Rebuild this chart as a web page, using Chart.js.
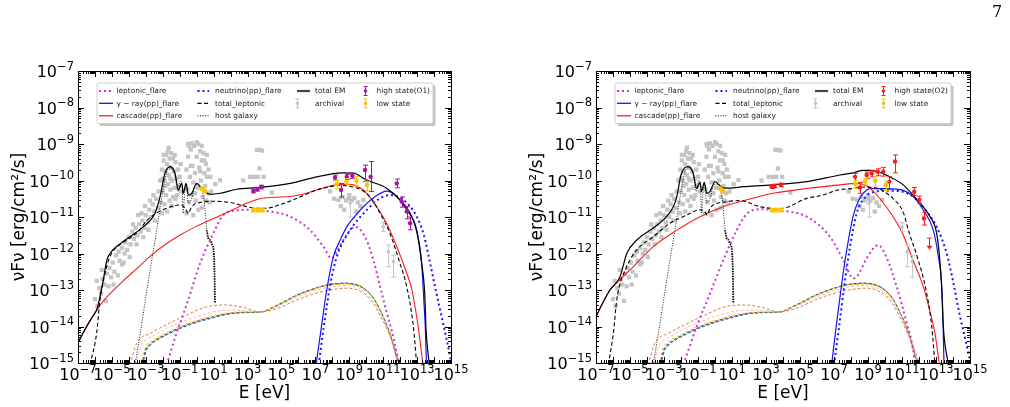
<!DOCTYPE html>
<html>
<head>
<meta charset="utf-8">
<script src="https://cdn.jsdelivr.net/npm/chart.js@4.4.1/dist/chart.umd.min.js"></script>
<style>
  body { margin: 0; background: #fff; }
  #wrap { position: relative; width: 1010px; height: 407px; overflow: hidden; }
  .panel { position: absolute; top: 0; width: 505px; height: 407px; }
  #pageno { position: absolute; left: 992px; top: 2px; font-family: "DejaVu Serif", serif; font-size: 16px; }
</style>
</head>
<body>
<div id="wrap">
  <div class="panel" style="left:0"><canvas id="sedO1" width="505" height="407"></canvas></div>
  <div class="panel" style="left:505px"><canvas id="sedO2" width="505" height="407"></canvas></div>
  <div id="pageno">7</div>
</div>
<script>
/* ------------------------------------------------------------------ */
/*  Data — all values are [log10 E(eV), log10 νFν(erg/cm²/s)]          */
/* ------------------------------------------------------------------ */

const xTickExps = [-7, -5, -3, -1, 1, 3, 5, 7, 9, 11, 13, 15];
const yTickExps = [-15, -14, -13, -12, -11, -10, -9, -8, -7];

// flare O1 (left panel)
const leptonicO1 = [[-1.77,-15.05],[-1.2,-14.2],[-0.59,-13.4],[0.2,-12.27],[0.98,-11.45],[1.57,-10.95],[2.36,-10.82],[3.15,-10.8],[4.2,-10.84],[5.51,-10.99],[6.69,-11.36],[7.47,-11.81],[7.96,-12.13],[8.3,-11.92],[8.65,-11.63],[9.34,-11.27],[9.93,-11.54],[10.42,-12.18],[10.82,-12.91],[11.2,-13.6],[11.6,-14.3],[11.9,-15.05]];
const gammaO1 = [[7.04,-15.05],[7.3,-14.2],[7.67,-13.0],[8.06,-12.09],[8.5,-11.6],[8.85,-11.27],[9.3,-11.0],[9.83,-10.72],[10.6,-10.42],[11.2,-10.29],[11.8,-10.44],[12.39,-10.81],[12.98,-11.36],[13.27,-12.27],[13.4,-13.3],[13.5,-14.2],[13.55,-15.05]];
const cascadeO1 = [[-7,-14.45],[-6.5,-14.02],[-6.0,-13.62],[-5.5,-13.3],[-5.0,-13.05],[-4.33,-12.75],[-3.5,-12.4],[-2.75,-12.08],[-2.0,-11.8],[-1.0,-11.5],[0,-11.25],[1.0,-11.04],[2.0,-10.83],[2.8,-10.65],[3.74,-10.5],[4.6,-10.46],[5.51,-10.44],[6.3,-10.37],[7.08,-10.26],[7.8,-10.16],[8.46,-10.1],[9.24,-10.12],[9.7,-10.22],[10.03,-10.35],[10.62,-10.72],[11.2,-11.17],[11.8,-11.81],[12.39,-12.54],[12.7,-13.0],[13.06,-14.0],[13.35,-15.05]];
const neutrinoO1 = [[7.2,-15.05],[7.5,-14.0],[7.9,-12.8],[8.26,-12.09],[9.05,-11.36],[10.03,-10.81],[10.7,-10.52],[11.4,-10.4],[12.19,-10.53],[12.98,-10.99],[13.4,-11.5],[13.77,-12.27],[14.1,-13.0],[14.36,-13.55],[14.75,-14.37],[15.05,-15.05]];
const totalLeptonicO1 = [[-6.29,-15.05],[-5.9,-14.18],[-5.7,-13.27],[-5.31,-12.36],[-5.0,-11.98],[-4.5,-11.75],[-4.0,-11.6],[-3.5,-11.42],[-2.95,-11.1],[-2.4,-10.9],[-1.97,-10.8],[-1.4,-10.7],[-0.98,-10.67],[-0.7,-10.75],[-0.49,-10.9],[-0.3,-10.72],[0.2,-10.6],[0.98,-10.57],[1.97,-10.6],[2.56,-10.67],[3.54,-10.76],[4.13,-10.76],[4.8,-10.68],[5.7,-10.53],[7.08,-10.26],[7.87,-10.17],[8.46,-10.13],[9.24,-10.18],[9.81,-10.28],[10.3,-10.5],[10.82,-10.9],[11.4,-11.45],[11.99,-12.27],[12.39,-12.91],[12.78,-14.0],[12.98,-15.05]];
const totalEMO1 = [[-7,-14.45],[-6.5,-14.0],[-6.1,-13.7],[-5.9,-13.55],[-5.7,-13.18],[-5.51,-12.73],[-5.31,-12.2],[-5.11,-12.0],[-4.72,-11.81],[-4.3,-11.66],[-3.93,-11.54],[-3.15,-11.27],[-2.75,-11.1],[-2.46,-10.9],[-2.16,-10.44],[-1.87,-9.8],[-1.57,-9.62],[-1.28,-9.8],[-1.08,-10.26],[-0.88,-10.08],[-0.79,-10.35],[-0.63,-10.08],[-0.49,-10.4],[-0.29,-10.35],[0.0,-10.08],[0.2,-10.17],[0.49,-10.31],[0.79,-10.38],[1.38,-10.35],[2.36,-10.24],[3.74,-10.19],[5.51,-10.08],[7.08,-9.9],[8.3,-9.8],[8.65,-9.79],[9.24,-9.8],[10.03,-9.99],[11.2,-10.21],[11.99,-10.53],[12.59,-10.9],[12.98,-11.4],[13.27,-12.27],[13.45,-13.1],[13.53,-14.1],[13.72,-15.05]];

// flare O2 (right panel)
const leptonicO2 = [[-1.86,-15.05],[-1.08,-14.0],[-0.29,-13.09],[0.49,-12.18],[1.28,-11.36],[1.86,-10.92],[2.65,-10.79],[3.43,-10.81],[5.39,-10.99],[6.76,-11.54],[7.55,-12.18],[8.14,-12.68],[8.4,-12.6],[8.92,-12.13],[9.6,-11.77],[10.1,-12.12],[10.69,-12.91],[11.28,-13.91],[11.66,-14.64],[11.76,-15.05]];
const gammaO2 = [[6.86,-15.05],[7.1,-14.1],[7.35,-13.2],[7.55,-12.5],[7.75,-11.9],[8.14,-10.95],[8.5,-10.5],[8.72,-10.35],[9.12,-10.22],[10.1,-10.22],[11.08,-10.27],[11.66,-10.44],[12.25,-10.81],[12.84,-11.36],[13.14,-12.09],[13.34,-12.91],[13.42,-14.0],[13.47,-15.05]];
const cascadeO2 = [[-7,-13.73],[-6.6,-13.35],[-6.18,-13.0],[-5.78,-12.8],[-4.8,-12.36],[-3.63,-11.81],[-2.25,-11.36],[-0.88,-10.99],[0.49,-10.72],[1.47,-10.58],[2.5,-10.45],[3.43,-10.35],[5.39,-10.22],[7.35,-10.12],[8.33,-10.08],[8.8,-10.12],[9.12,-10.21],[9.71,-10.5],[10.49,-11.0],[11.08,-11.5],[11.66,-12.2],[12.25,-12.9],[12.6,-13.5],[12.94,-14.19],[13.2,-15.05]];
const neutrinoO2 = [[7.0,-15.05],[7.3,-14.0],[7.6,-12.9],[7.95,-11.8],[8.33,-10.9],[8.92,-10.42],[9.5,-10.3],[10.2,-10.28],[11.08,-10.31],[11.8,-10.5],[12.45,-10.85],[13.04,-11.27],[13.63,-12.0],[14.02,-12.8],[14.4,-13.7],[14.75,-14.4],[15.05,-15.05]];
const totalLeptonicO2 = [[-6.28,-15.05],[-5.98,-14.19],[-5.78,-13.27],[-5.19,-12.36],[-4.6,-11.9],[-3.63,-11.54],[-2.65,-11.17],[-1.67,-10.95],[-0.9,-10.8],[-0.6,-10.85],[-0.45,-10.95],[-0.29,-10.75],[0.69,-10.58],[1.47,-10.55],[2.65,-10.72],[3.82,-10.77],[4.22,-10.74],[5.39,-10.49],[6.18,-10.42],[7.35,-10.25],[8.14,-10.22],[8.72,-10.18],[9.4,-10.2],[9.71,-10.24],[10.1,-10.35],[10.49,-10.5],[11.08,-10.88],[11.4,-11.4],[11.9,-12.1],[12.39,-12.95],[12.75,-14.0],[12.94,-15.05]];
const totalEMO2 = [[-7,-13.73],[-6.6,-13.35],[-6.18,-13.0],[-5.59,-12.64],[-5.19,-12.0],[-4.6,-11.63],[-3.82,-11.36],[-3.04,-11.08],[-2.45,-10.72],[-2.25,-10.45],[-2.0,-9.85],[-1.8,-9.66],[-1.57,-9.62],[-1.28,-9.8],[-1.08,-10.22],[-0.88,-10.05],[-0.79,-10.3],[-0.63,-10.05],[-0.49,-10.35],[-0.29,-10.3],[0.0,-10.03],[0.2,-10.1],[0.49,-10.2],[0.88,-10.21],[1.66,-10.17],[2.65,-10.14],[3.43,-10.12],[5.39,-10.03],[7.35,-9.85],[8.14,-9.79],[8.72,-9.72],[9.12,-9.72],[9.71,-9.78],[10.29,-9.9],[11.08,-10.12],[11.47,-10.31],[12.06,-10.62],[12.65,-10.99],[13.04,-11.45],[13.24,-12.27],[13.34,-13.0],[13.43,-14.0],[13.73,-15.05]];

// shared components
const hostGalaxy = [[-3.64,-15.05],[-3.3,-14.1],[-2.9,-12.9],[-2.36,-11.36],[-2.0,-10.3],[-1.77,-9.77],[-1.57,-9.65],[-1.3,-9.82],[-1.1,-10.3],[-0.95,-10.0],[-0.85,-10.2],[-0.8,-10.9],[-0.7,-10.3],[-0.6,-10.1],[-0.5,-10.6],[-0.3,-10.5],[-0.1,-10.15],[0.1,-10.1],[0.3,-10.25],[0.45,-10.6],[0.59,-11.36]];
const hostGalaxyTail = [[0.59,-11.36],[0.7,-11.6],[0.79,-11.63],[0.9,-11.75],[0.98,-11.85],[1.05,-12.5],[1.08,-13.36]];
const violetBundle = [[-3.25,-15.05],[-3.0,-14.62],[-2.75,-14.47],[-2.4,-14.36],[-1.77,-14.2],[-1.0,-14.03],[0.2,-13.83],[1.0,-13.73],[1.77,-13.65],[2.8,-13.61],[3.74,-13.6],[4.8,-13.4],[5.9,-13.14],[6.8,-12.98],[7.67,-12.86],[8.3,-12.82],[8.85,-12.81],[9.4,-12.85],[9.83,-12.94],[10.4,-13.2],[10.82,-13.55],[11.4,-14.19],[11.8,-14.83],[12.0,-15.05]];
const blueBundle = [[-3.2,-15.05],[-2.95,-14.64],[-2.7,-14.5],[-2.4,-14.39],[-1.77,-14.23],[-1.0,-14.06],[0.2,-13.86],[1.0,-13.76],[1.77,-13.67],[2.8,-13.62],[3.74,-13.61],[4.8,-13.42],[5.9,-13.15],[6.8,-12.99],[7.67,-12.87],[8.3,-12.83],[8.85,-12.82],[9.4,-12.86],[9.83,-12.95],[10.4,-13.21],[10.82,-13.56],[11.4,-14.2],[11.8,-14.85],[12.02,-15.05]];
const greenBundle = [[-3.22,-15.05],[-2.97,-14.63],[-2.72,-14.49],[-2.4,-14.38],[-1.77,-14.22],[-1.0,-14.05],[0.2,-13.85],[1.0,-13.75],[1.77,-13.66],[2.8,-13.62],[3.74,-13.61],[4.8,-13.41],[5.9,-13.15],[6.8,-12.99],[7.67,-12.87],[8.3,-12.83],[8.85,-12.82],[9.4,-12.86],[9.83,-12.95],[10.4,-13.2],[10.82,-13.55],[11.4,-14.19],[11.8,-14.84],[12.01,-15.05]];
const goldBundle = [[-3.3,-15.05],[-3.05,-14.58],[-2.8,-14.43],[-2.4,-14.32],[-1.77,-14.16],[-1.0,-14.0],[0.2,-13.8],[1.0,-13.7],[1.77,-13.63],[2.8,-13.6],[3.74,-13.6],[4.8,-13.41],[5.9,-13.16],[6.8,-13.0],[7.67,-12.88],[8.3,-12.85],[8.85,-12.84],[9.4,-12.88],[9.83,-12.97],[10.4,-13.22],[10.82,-13.56],[11.4,-14.18],[11.8,-14.8],[12.02,-15.05]];
const pinkBundle = [[-3.6,-15.05],[-3.3,-14.55],[-2.9,-14.35],[-2.4,-14.22],[-1.77,-14.05],[-1.0,-13.9],[0.2,-13.7],[1.0,-13.6],[1.77,-13.55],[2.8,-13.56],[3.74,-13.6],[4.8,-13.44],[5.9,-13.2],[6.8,-13.05],[7.67,-12.93],[8.3,-12.89],[8.85,-12.88],[9.4,-12.93],[9.83,-13.02],[10.4,-13.3],[10.82,-13.62],[11.4,-14.28],[11.8,-14.9],[12.03,-15.05]];
const peruBundle = [[-3.93,-15.05],[-3.54,-14.46],[-2.75,-14.19],[-1.77,-13.95],[-0.79,-13.73],[0.59,-13.46],[1.77,-13.41],[2.8,-13.48],[3.74,-13.6],[4.8,-13.5],[5.9,-13.27],[6.8,-13.12],[7.87,-13.0],[8.85,-12.95],[9.83,-13.08],[10.4,-13.35],[10.82,-13.7],[11.6,-14.46],[12.05,-15.05]];

// observations: [logE, logF, logF low, logF high]
const highStateO1 = [[3.34,-10.29,-10.34,-10.24],[3.57,-10.24,-10.29,-10.19],[3.82,-10.18,-10.23,-10.13],[8.16,-9.92,-9.99,-9.85],[8.52,-10.26,-10.45,-10.08],[8.85,-9.9,-9.97,-9.83],[9.18,-9.87,-9.94,-9.8],[9.93,-9.71,-10.03,-9.58],[10.26,-9.9,-10.3,-9.48],[11.8,-10.08,-10.2,-9.96],[12.09,-10.58,-10.73,-10.45],[12.39,-10.85,-11.05,-10.72],[12.59,-11.17,-11.35,-11.0]];
const highStateO2 = [[3.33,-10.17,-10.22,-10.12],[3.5,-10.15,-10.2,-10.1],[3.86,-10.12,-10.17,-10.07],[8.24,-9.9,-10.0,-9.8],[8.53,-10.19,-10.35,-10.05],[8.92,-9.85,-9.95,-9.77],[9.22,-9.8,-9.9,-9.72],[9.57,-9.76,-9.87,-9.68],[9.9,-9.76,-9.88,-9.64],[10.25,-10.03,-10.25,-9.9],[10.59,-9.48,-9.79,-9.3],[11.72,-10.31,-10.42,-10.19],[12.02,-10.53,-10.62,-10.43],[12.29,-11.04,-11.22,-10.87]];
const upperLimitO2 = [[12.61,-11.58,-11.9]];
const lowState = [[0.3,-10.22,-10.22,-10.22],[0.4,-10.26,-10.26,-10.26],[0.5,-10.3,-10.3,-10.3],[3.34,-10.81,-10.86,-10.76],[3.6,-10.81,-10.86,-10.76],[3.88,-10.81,-10.86,-10.76],[8.26,-10.1,-10.22,-10.0],[8.84,-10.03,-10.12,-9.95],[9.42,-10.01,-10.15,-9.9],[10.05,-10.12,-10.28,-10.02]];
const archivalErr = [[9.05,-10.62,-11.0,-10.45],[11.0,-11.27,-11.4,-11.15],[11.3,-11.95,-12.36,-11.77],[11.6,-12.22,-12.65,-12.05]];
const archival = [
  [-6.0,-13.25],[-5.85,-13.45],[-5.75,-12.95],[-5.65,-13.1],[-5.55,-12.7],[-5.45,-12.85],[-5.35,-13.3],[-5.3,-12.55],[-5.15,-12.4],[-5.05,-12.65],[-4.95,-12.25],[-4.85,-12.5],[-4.75,-12.05],[-4.6,-11.95],[-4.55,-12.2],[-4.4,-11.85],[-4.3,-12.25],[-4.2,-11.7],[-4.1,-11.9],[-4.0,-11.55],[-3.9,-11.75],[-3.8,-11.4],[-3.7,-11.6],[-3.6,-11.3],[-3.5,-11.5],[-3.4,-11.2],[-3.3,-11.4],[-3.2,-11.1],[-3.1,-11.3],[-3.0,-10.95],[-2.9,-11.15],[-2.8,-10.8],[-2.7,-11.0],[-2.6,-10.65],[-2.5,-10.85],[-2.4,-10.5],[-2.3,-10.75],[-2.25,-10.3],[-5.6,-12.45],[-4.9,-12.85],[-4.4,-12.3],[-3.75,-11.2],[-3.25,-10.9],[-2.55,-10.4],
  [-5.9,-12.75],[-5.2,-12.9],[-4.65,-12.6],[-4.25,-12.0],[-3.95,-12.1],[-3.55,-11.75],[-3.15,-11.55],[-2.85,-11.35],[-2.45,-11.1],[-2.75,-10.55],[-3.05,-10.7],[-3.45,-10.95],
  [-2.15,-10.0],[-2.1,-10.6],[-2.05,-9.7],[-2.0,-10.3],[-1.95,-9.45],[-1.9,-10.0],[-1.9,-10.65],[-1.85,-9.75],[-1.8,-9.3],[-1.8,-10.4],[-1.75,-9.55],[-1.7,-10.1],[-1.7,-9.2],[-1.65,-9.85],[-1.6,-10.55],[-1.6,-9.4],[-1.55,-10.25],[-1.5,-9.65],[-1.5,-9.25],[-1.45,-10.0],[-1.4,-10.45],[-1.4,-9.4],[-1.35,-9.75],[-1.3,-10.2],[-1.25,-9.5],[-1.2,-9.95],[-1.15,-10.4],[-1.1,-9.7],[-1.05,-10.15],[-1.0,-9.9],[-0.95,-9.55],[-0.9,-10.3],
  [-2.05,-10.9],[-1.75,-10.85],[-1.45,-10.7],[-1.65,-9.1],[-1.95,-9.3],[-1.3,-9.3],[-2.0,-9.95],[-1.55,-9.95],[-1.25,-10.5],[-1.85,-10.15],
  [-0.6,-9.7],[-0.55,-10.25],[-0.5,-9.35],[-0.45,-10.6],[-0.4,-9.9],[-0.35,-9.15],[-0.3,-10.4],[-0.25,-9.6],[-0.2,-10.05],[-0.15,-9.05],[-0.1,-9.8],[-0.05,-10.55],[0.0,-9.35],[0.05,-10.2],[0.1,-9.0],[0.15,-9.65],[0.2,-9.2],[0.25,-10.0],[0.3,-9.45],[0.35,-10.45],[0.4,-9.25],[0.45,-9.8],[0.5,-10.15],[0.55,-9.55],[0.6,-9.9],[0.65,-10.35],[0.7,-9.7],[-0.2,-10.95],[0.1,-10.8],[-0.45,-9.05],[0.75,-10.6],
  [-0.5,-9.0],[-0.3,-8.98],[0.0,-8.95],[0.3,-9.05],[0.6,-9.3],[0.8,-9.9],[0.85,-10.3],[-0.6,-10.9],[0.3,-10.75],[0.55,-10.55],[-0.35,-9.6],[0.2,-9.75],[-0.1,-10.35],[0.45,-9.45],
  [1.1,-10.1],[1.38,-9.99],[2.74,-10.0],[3.15,-9.9],[3.4,-9.9],[3.6,-9.9],[3.95,-9.9],[3.7,-9.67],[3.55,-9.16],[3.7,-9.16],[3.85,-9.18],[4.43,-10.33],
  [7.87,-10.3],[8.1,-10.5],[8.36,-10.53],[8.6,-10.45],[8.8,-10.55],[8.95,-10.5],[9.15,-10.55],[9.3,-10.48],[9.5,-10.6],[9.83,-10.53],[8.7,-10.8],[9.4,-10.85],[9.65,-10.7],[8.5,-10.7],[9.0,-10.4]
];

/* ------------------------------------------------------------------ */
/*  Styles                                                             */
/* ------------------------------------------------------------------ */

const MAGENTA = '#cc33cc';
const PURPLE = '#a810a8';
const BLUE = '#1414ff';
const RED = '#ff1a1a';
const GOLD = '#f7c600';
const GREY = '#c4c4c4';
const FONT = '"DejaVu Sans", sans-serif';

const toXY = arr => arr.map(p => ({ x: Math.pow(10, p[0]), y: Math.pow(10, p[1]) }));

function curve(label, data, color, width, dash, order) {
    return {
        label: label, data: toXY(data), showLine: true,
        borderColor: color, backgroundColor: color,
        borderWidth: width, borderDash: dash || [],
        pointRadius: 0, cubicInterpolationMode: 'monotone',
        fill: false, clip: 0, order: order
    };
}

function markers(label, data, color, style, radius, order) {
    return {
        label: label, data: toXY(data), showLine: false, errors: data,
        pointStyle: style, pointRadius: radius,
        backgroundColor: color, borderColor: color, borderWidth: 0,
        clip: 0, order: order
    };
}

function bundleSets() {
    return [
        curve('bundle peru', peruBundle, '#cd853f', 1, [3, 2], 8),
        curve('bundle pink', pinkBundle, '#ffb0c0', 1, [3, 2], 8),
        curve('bundle gold', goldBundle, '#ffd000', 1, [3, 2], 8),
        curve('bundle green', greenBundle, '#2e8b57', 1, [3, 2], 8),
        curve('bundle blue', blueBundle, '#3050d0', 1, [3, 2], 8),
        curve('bundle violet', violetBundle, '#8a1aa8', 1, [3, 2], 8)
    ];
}

/* ------------------------------------------------------------------ */
/*  Plugins: error bars, matplotlib-like frame/ticks, legend           */
/* ------------------------------------------------------------------ */

const errorBarPlugin = {
    id: 'errorBars',
    afterDatasetsDraw(chart) {
        const ctx = chart.ctx, xs = chart.scales.x, ys = chart.scales.y, ca = chart.chartArea;
        ctx.save();
        ctx.beginPath();
        ctx.rect(ca.left, ca.top, ca.right - ca.left, ca.bottom - ca.top);
        ctx.clip();
        ctx.lineWidth = 1;
        chart.data.datasets.forEach(ds => {
            if (ds.errors) {
                ctx.strokeStyle = ds.borderColor;
                ds.errors.forEach(e => {
                    if (e[2] === e[3]) return;
                    const px = Math.round(xs.getPixelForValue(Math.pow(10, e[0]))) + 0.5;
                    const lo = ys.getPixelForValue(Math.pow(10, e[2]));
                    const hi = ys.getPixelForValue(Math.pow(10, e[3]));
                    ctx.beginPath();
                    ctx.moveTo(px, lo); ctx.lineTo(px, hi);
                    ctx.moveTo(px - 2.5, lo); ctx.lineTo(px + 2.5, lo);
                    ctx.moveTo(px - 2.5, hi); ctx.lineTo(px + 2.5, hi);
                    ctx.stroke();
                });
            }
            if (ds.upperLimits) {
                ctx.strokeStyle = ds.borderColor;
                ctx.fillStyle = ds.borderColor;
                ds.upperLimits.forEach(u => {
                    const px = Math.round(xs.getPixelForValue(Math.pow(10, u[0]))) + 0.5;
                    const top = ys.getPixelForValue(Math.pow(10, u[1]));
                    const tip = ys.getPixelForValue(Math.pow(10, u[2]));
                    ctx.beginPath();
                    ctx.moveTo(px - 2.5, top); ctx.lineTo(px + 2.5, top);
                    ctx.moveTo(px, top); ctx.lineTo(px, tip - 3);
                    ctx.stroke();
                    ctx.beginPath();
                    ctx.moveTo(px - 3, tip - 4); ctx.lineTo(px + 3, tip - 4); ctx.lineTo(px, tip);
                    ctx.closePath();
                    ctx.fill();
                });
            }
        });
        ctx.restore();
    }
};

function drawPow(ctx, x, y, exp, align) {
    const base = '10';
    const sup = exp < 0 ? '\u2212' + (-exp) : String(exp);
    ctx.font = '16px ' + FONT;
    const wb = ctx.measureText(base).width;
    ctx.font = '11.5px ' + FONT;
    const ws = ctx.measureText(sup).width;
    const x0 = align === 'center' ? x - (wb + ws) / 2 : x - (wb + ws);
    ctx.font = '16px ' + FONT;
    ctx.fillText(base, x0, y);
    ctx.font = '11.5px ' + FONT;
    ctx.fillText(sup, x0 + wb, y - 7.5);
}

const framePlugin = {
    id: 'sedFrame',
    afterDraw(chart) {
        const ctx = chart.ctx, xs = chart.scales.x, ys = chart.scales.y, ca = chart.chartArea;
        ctx.save();
        ctx.strokeStyle = '#000';
        ctx.lineWidth = 1;
        ctx.strokeRect(Math.round(ca.left) + 0.5, Math.round(ca.top) + 0.5,
            Math.round(ca.right - ca.left), Math.round(ca.bottom - ca.top));

        // inward ticks on all four sides
        ctx.beginPath();
        for (let d = -7; d <= 15; d++) {
            for (let k = 1; k <= 9; k++) {
                if (d === 15 && k > 1) break;
                const px = Math.round(xs.getPixelForValue(k * Math.pow(10, d))) + 0.5;
                const len = k === 1 ? 6 : 3;
                ctx.moveTo(px, ca.bottom); ctx.lineTo(px, ca.bottom - len);
                ctx.moveTo(px, ca.top); ctx.lineTo(px, ca.top + len);
            }
        }
        for (let d = -15; d <= -7; d++) {
            for (let k = 1; k <= 9; k++) {
                if (d === -7 && k > 1) break;
                const py = Math.round(ys.getPixelForValue(k * Math.pow(10, d))) + 0.5;
                const len = k === 1 ? 6 : 3;
                ctx.moveTo(ca.left, py); ctx.lineTo(ca.left + len, py);
                ctx.moveTo(ca.right, py); ctx.lineTo(ca.right - len, py);
            }
        }
        ctx.stroke();

        // tick labels
        ctx.fillStyle = '#000';
        ctx.textBaseline = 'alphabetic';
        ctx.textAlign = 'left';
        xTickExps.forEach(e => drawPow(ctx, xs.getPixelForValue(Math.pow(10, e)), ca.bottom + 17, e, 'center'));
        yTickExps.forEach(e => drawPow(ctx, ca.left - 4, ys.getPixelForValue(Math.pow(10, e)) + 6, e, 'right'));

        // axis titles
        ctx.font = '17px ' + FONT;
        ctx.textAlign = 'center';
        ctx.fillText('E [eV]', (ca.left + ca.right) / 2, ca.bottom + 35);
        ctx.save();
        ctx.translate(ca.left - 58, (ca.top + ca.bottom) / 2);
        ctx.rotate(-Math.PI / 2);
        ctx.textBaseline = 'middle';
        ctx.fillText('\u03bdF\u03bd [erg/cm\u00b2/s]', 0, 0);
        ctx.restore();
        ctx.restore();
    }
};

const legendCols = [
    { h0: 21, h1: 35, text: 38.5 },
    { h0: 119.5, h1: 131, text: 137 },
    { h0: 219, h1: 232, text: 237 },
    { h0: 287, h1: 287, text: 298.5 }
];
const legendRows = [20, 32.3, 44.8];

const legendPlugin = {
    id: 'sedLegend',
    afterDraw(chart, args, opts) {
        const ctx = chart.ctx, ca = chart.chartArea;
        const bx = ca.left + 19, by = ca.top + 12, bw = 336, bh = 40.5;
        ctx.save();
        ctx.fillStyle = 'rgba(120,120,120,0.45)';
        ctx.beginPath(); ctx.roundRect(bx + 2.5, by + 2.5, bw, bh, 2); ctx.fill();
        ctx.fillStyle = '#fff';
        ctx.strokeStyle = '#d0d0d0';
        ctx.lineWidth = 1;
        ctx.beginPath(); ctx.roundRect(bx, by, bw, bh, 2); ctx.fill(); ctx.stroke();

        ctx.textBaseline = 'middle';
        ctx.textAlign = 'left';
        opts.items.forEach(it => {
            const c = legendCols[it.col];
            const y = ca.top + legendRows[it.row];
            const x0 = ca.left + c.h0, x1 = ca.left + c.h1;
            if (it.kind === 'line') {
                ctx.strokeStyle = it.color;
                ctx.lineWidth = it.width;
                ctx.setLineDash(it.dash || []);
                ctx.beginPath(); ctx.moveTo(x0, y); ctx.lineTo(x1, y); ctx.stroke();
                ctx.setLineDash([]);
            } else {
                ctx.strokeStyle = it.color;
                ctx.fillStyle = it.color;
                ctx.lineWidth = 1;
                const px = Math.round(x0) + 0.5;
                ctx.beginPath();
                ctx.moveTo(px, y - 4.5); ctx.lineTo(px, y + 4.5);
                ctx.moveTo(px - 2, y - 4.5); ctx.lineTo(px + 2, y - 4.5);
                ctx.moveTo(px - 2, y + 4.5); ctx.lineTo(px + 2, y + 4.5);
                ctx.stroke();
                ctx.beginPath(); ctx.arc(px, y, 1.8, 0, Math.PI * 2); ctx.fill();
            }
            ctx.fillStyle = '#222';
            ctx.font = '7.4px ' + FONT;
            ctx.fillText(it.text, ca.left + c.text, y + 0.5);
        });
        ctx.restore();
    }
};

function legendItems(stateLabel, stateColor) {
    return [
        { col: 0, row: 0, text: 'leptonic_flare', kind: 'line', color: MAGENTA, width: 2, dash: [2, 3] },
        { col: 0, row: 1, text: '\u03b3 \u2212 ray(pp)_flare', kind: 'line', color: BLUE, width: 1.3 },
        { col: 0, row: 2, text: 'cascade(pp)_flare', kind: 'line', color: RED, width: 1.3 },
        { col: 1, row: 0, text: 'neutrino(pp)_flare', kind: 'line', color: BLUE, width: 2, dash: [2, 3] },
        { col: 1, row: 1, text: 'total_leptonic', kind: 'line', color: '#000', width: 1.3, dash: [4, 2.5] },
        { col: 1, row: 2, text: 'host galaxy', kind: 'line', color: '#000', width: 1, dash: [1, 1.5] },
        { col: 2, row: 0, text: 'total EM', kind: 'line', color: '#444', width: 2.2 },
        { col: 2, row: 1, text: 'archival', kind: 'err', color: GREY },
        { col: 3, row: 0, text: stateLabel, kind: 'err', color: stateColor },
        { col: 3, row: 1, text: 'low state', kind: 'err', color: GOLD }
    ];
}

/* ------------------------------------------------------------------ */
/*  Chart factory                                                      */
/* ------------------------------------------------------------------ */

function makeChart(canvasId, padLeft, padRight, model, legend) {
    const datasets = [
        markers(model.stateLabel, model.high, model.highColor, 'circle', 2.2, 0),
        markers('low state', lowState, GOLD, 'circle', 2.4, 1),
        curve('total EM', model.total, '#000', 1.2, [], 2),
        curve('total_leptonic', model.totalLep, '#000', 1.1, [4, 2.5], 3),
        curve('cascade(pp)_flare', model.cascade, RED, 1.1, [], 4),
        curve('\u03b3 \u2212 ray(pp)_flare', model.gamma, BLUE, 1.2, [], 4),
        curve('neutrino(pp)_flare', model.neutrino, BLUE, 2, [2, 3], 5),
        curve('leptonic_flare', model.leptonic, MAGENTA, 2, [2, 3], 5),
        curve('host galaxy', hostGalaxy, '#000', 0.9, [1, 1.5], 6),
        curve('host galaxy tail', hostGalaxyTail, '#000', 1.8, [1.5, 1], 6),
        ...bundleSets(),
        markers('archival', archival, GREY, 'rect', 3, 20),
        markers('archival', archivalErr, GREY, 'rect', 2.2, 19)
    ];
    if (model.upper) {
        datasets.unshift(Object.assign(markers('upper limit', [], RED, 'circle', 0, 0), { upperLimits: model.upper }));
    }

    return new Chart(document.getElementById(canvasId), {
        type: 'scatter',
        data: { datasets: datasets },
        options: {
            responsive: false,
            animation: false,
            events: [],
            layout: { padding: { left: padLeft, right: padRight, top: 71, bottom: 44 } },
            scales: {
                x: { type: 'logarithmic', min: 1e-7, max: 1e15, display: false },
                y: { type: 'logarithmic', min: 1e-15, max: 1e-7, display: false }
            },
            plugins: {
                legend: { display: false },
                tooltip: { enabled: false },
                sedLegend: { items: legend }
            }
        },
        plugins: [errorBarPlugin, framePlugin, legendPlugin]
    });
}

makeChart('sedO1', 78, 54, {
    stateLabel: 'high state(O1)', high: highStateO1, highColor: PURPLE,
    total: totalEMO1, totalLep: totalLeptonicO1, cascade: cascadeO1,
    gamma: gammaO1, neutrino: neutrinoO1, leptonic: leptonicO1
}, legendItems('high state(O1)', PURPLE));

makeChart('sedO2', 91, 40, {
    stateLabel: 'high state(O2)', high: highStateO2, highColor: RED, upper: upperLimitO2,
    total: totalEMO2, totalLep: totalLeptonicO2, cascade: cascadeO2,
    gamma: gammaO2, neutrino: neutrinoO2, leptonic: leptonicO2
}, legendItems('high state(O2)', RED));
</script>
</body>
</html>
